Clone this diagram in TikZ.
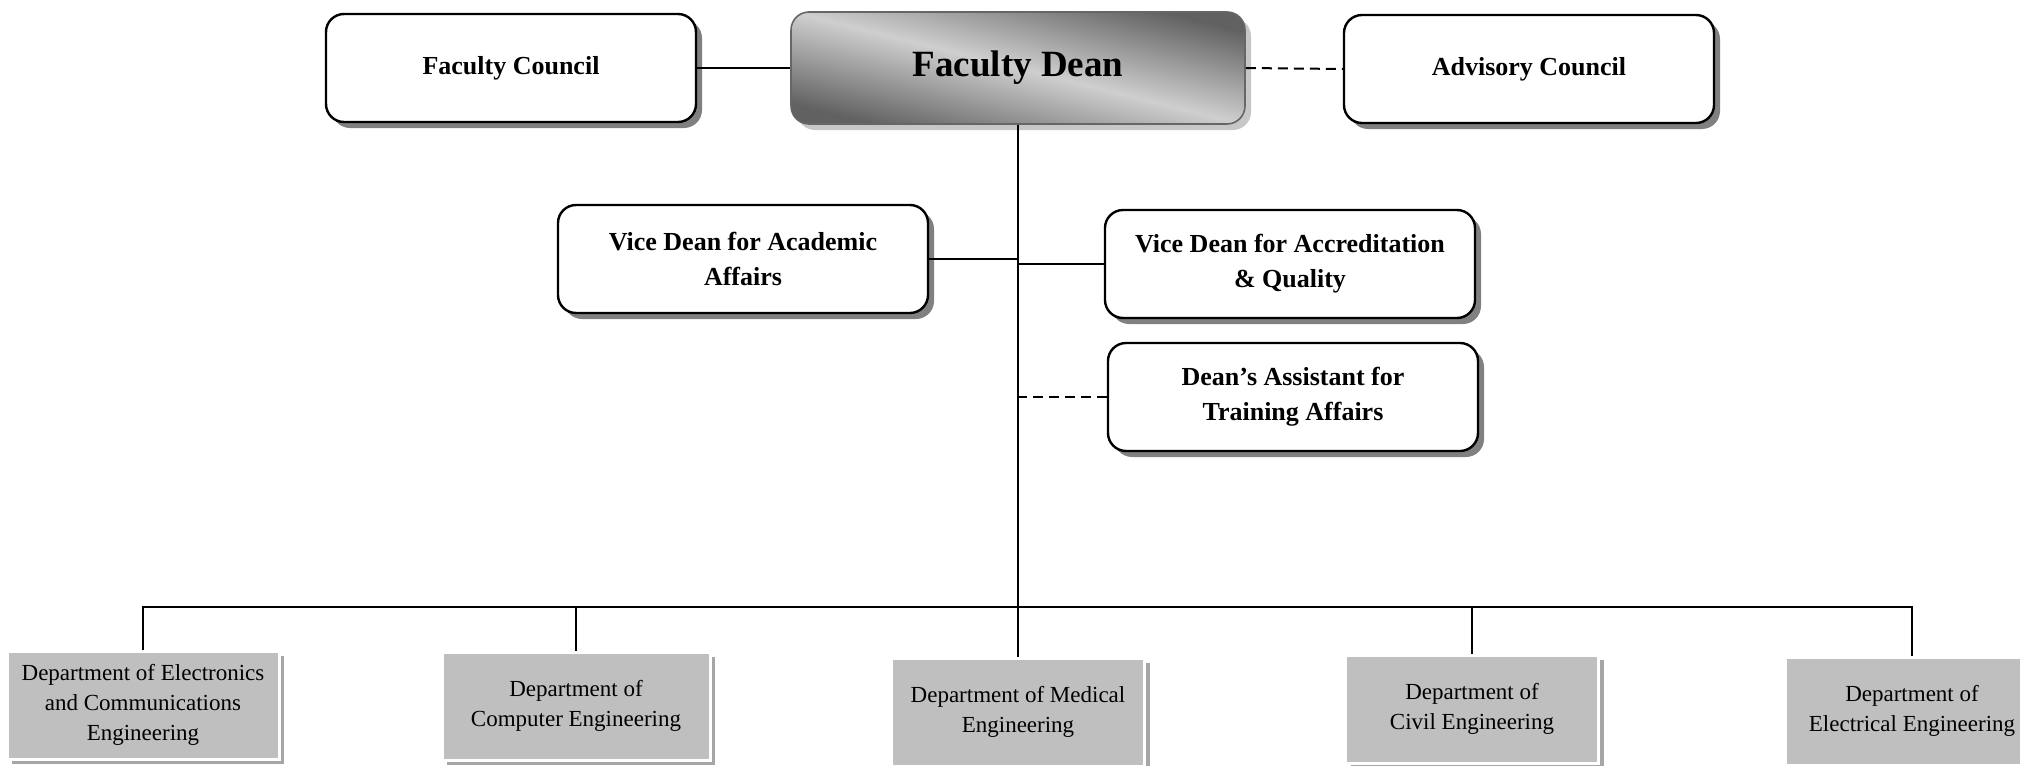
\documentclass[tikz,border=0pt]{standalone}
\usepackage{fontspec}
\setmainfont{Liberation Serif}
\usetikzlibrary{shadows}

\begin{document}
\begin{tikzpicture}[x=0.5pt, y=-0.5pt, thick,
	top box/.style={rectangle, rounded corners=9pt, draw, line width=1.2pt, fill=white, minimum width=185pt, minimum height=54pt, align=center, font=\bfseries\fontsize{13}{17.5}\selectfont, drop shadow={shadow xshift=3pt, shadow yshift=-3pt, fill=black!50, opacity=1}},
	dean box/.style={rectangle, rounded corners=9pt, draw=black!60, line width=0.8pt, top color=black!62, bottom color=black!62, middle color=black!19, shading angle=-14, minimum width=227pt, minimum height=56pt, align=center, font=\bfseries\fontsize{18.5}{22}\selectfont, drop shadow={shadow xshift=3pt, shadow yshift=-3pt, fill=black!22, opacity=1}},
	dept box/.style={rectangle, fill=black!25, draw=white, line width=1.5pt, minimum width=134pt, minimum height=54pt, align=center, font=\fontsize{11.5}{15}\selectfont, drop shadow={shadow xshift=2.5pt, shadow yshift=-2.5pt, fill=black!35, opacity=1}},
	link/.style={line width=1pt},
	dashed link/.style={link, dash pattern=on 5pt off 3pt}]
	\useasboundingbox (0,0) rectangle (2020,766);

	\node[dean box] (dean) at (1018,68) {Faculty Dean};
	\node[top box] (council) at (511,68) {Faculty Council};
	\node[top box] (advisory) at (1529,69) {Advisory Council};
	\node[top box] (academic) at (743,259) {Vice Dean for Academic\\Affairs};
	\node[top box] (quality) at (1290,264) {Vice Dean for Accreditation\\\& Quality};
	\node[top box] (training) at (1293,397) {Dean’s Assistant for\\Training Affairs};

	\node[dept box, minimum width=136pt] (electronics) at (143,705) {Department of Electronics\\and Communications\\Engineering};
	\node[dept box] (computer) at (576,706) {Department of\\Computer Engineering};
	\node[dept box, minimum width=126.5pt] (medical) at (1018,712) {Department of Medical\\Engineering};
	\node[dept box, minimum width=126.5pt] (civil) at (1472,709) {Department of\\Civil Engineering};
	\node[dept box, minimum width=126.5pt] (electrical) at (1912,711) {Department of\\Electrical Engineering};
	\coordinate (bus) at (1018,607);

	\draw[link] (council.east) -- (dean.west);
	\draw[dashed link] (dean.east) -- (advisory.west);
	\draw[line width=0.8pt] (dean.south) -- (medical.north);
	\draw[link] (academic.east) -- (academic.east -| dean.south);
	\draw[link] (quality.west) -- (quality.west -| dean.south);
	\draw[dashed link] (training.west) -- (training.west -| dean.south);

	\draw[link] (electronics.north) -- (electronics.north |- bus) -- (electrical.north |- bus) -- (electrical.north);
	\draw[link] (computer.north) -- (computer.north |- bus);
	\draw[link] (civil.north) -- (civil.north |- bus);
\end{tikzpicture}
\end{document}
